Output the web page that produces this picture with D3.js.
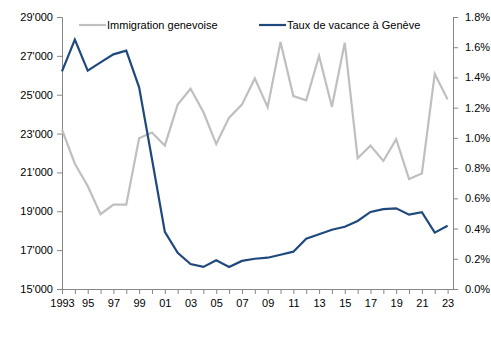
<!DOCTYPE html>
<html><head><meta charset="utf-8">
<script src="https://cdn.jsdelivr.net/npm/d3@7"></script>
<style>body{margin:0;background:#fff}svg{display:block}text{font-family:"Liberation Sans",Arial,sans-serif;font-size:11px;fill:#000}</style>
</head><body>
<script>
const years = d3.range(1993, 2024);
const immigration = [23200,21450,20300,18850,19340,19340,22760,23050,22380,24490,25310,24110,22460,23820,24490,25840,24360,27710,24930,24710,26990,24380,27680,21730,22380,21590,22710,20660,20950,26070,24760];
const vacancy = [1.44,1.65,1.445,1.50,1.553,1.577,1.335,0.86,0.379,0.24,0.165,0.146,0.19,0.146,0.186,0.2,0.207,0.227,0.247,0.333,0.362,0.392,0.412,0.45,0.51,0.529,0.534,0.492,0.508,0.373,0.419];
const leftTicks = [15000,17000,19000,21000,23000,25000,27000,29000];
const rightTicks = [0,0.2,0.4,0.6,0.8,1.0,1.2,1.4,1.6,1.8];
const xLabelYears = d3.range(1993, 2024, 2);
const seriesNames = ["Immigration genevoise","Taux de vacance à Genève"];

const W=491,H=340, L=62, R=453, T=17, B=289;
const svg=d3.select("body").append("svg").attr("width",W).attr("height",H);
const x=d3.scaleLinear().domain([1993,2023]).range([L,447.6]);
const yL=d3.scaleLinear().domain([15000,29000]).range([B,T]);
const yR=d3.scaleLinear().domain([0,1.8]).range([B,T]);
const axisCol="#868686";

// left axis
const fmtL=d=>d3.format(",")(d).replace(/,/g,"'");
const gL=svg.append("g").attr("transform",`translate(${L},0)`)
  .call(d3.axisLeft(yL).tickValues(leftTicks).tickFormat(fmtL).tickSize(5).tickPadding(4));
// right axis
const gR=svg.append("g").attr("transform",`translate(${R},0)`)
  .call(d3.axisRight(yR).tickValues(rightTicks).tickFormat(d=>d.toFixed(1)+"%").tickSize(5).tickPadding(7));
// bottom axis
const gB=svg.append("g").attr("transform",`translate(0,${B})`)
  .call(d3.axisBottom(x).tickValues(years).tickFormat(d=>xLabelYears.includes(d)?(d===1993?"1993":String(d).slice(2)):"").tickSize(5).tickPadding(5));
gB.select(".domain").attr("d",`M${L},0.5H${R}`);
[gL,gR,gB].forEach(g=>{g.selectAll(".domain,.tick line").attr("stroke",axisCol);g.selectAll("text").attr("font-size",11).attr("fill","#000").attr("font-family","Liberation Sans, Arial, sans-serif");});

const grayC="#BFBFBF", blueC="#1F497D";
svg.append("path").datum(immigration).attr("fill","none").attr("stroke",grayC).attr("stroke-width",2.2)
  .attr("d",d3.line().x((d,i)=>x(years[i])).y(d=>yL(d)));
svg.append("path").datum(vacancy).attr("fill","none").attr("stroke",blueC).attr("stroke-width",2.2)
  .attr("d",d3.line().x((d,i)=>x(years[i])).y(d=>yR(d)));

// legend
const leg=[{x:79,c:grayC,t:seriesNames[0]},{x:259,c:blueC,t:seriesNames[1]}];
leg.forEach(l=>{
  svg.append("line").attr("x1",l.x).attr("x2",l.x+27).attr("y1",25).attr("y2",25).attr("stroke",l.c).attr("stroke-width",2.2);
  svg.append("text").attr("x",l.x+28).attr("y",29).text(l.t);
});
</script>
</body></html>
